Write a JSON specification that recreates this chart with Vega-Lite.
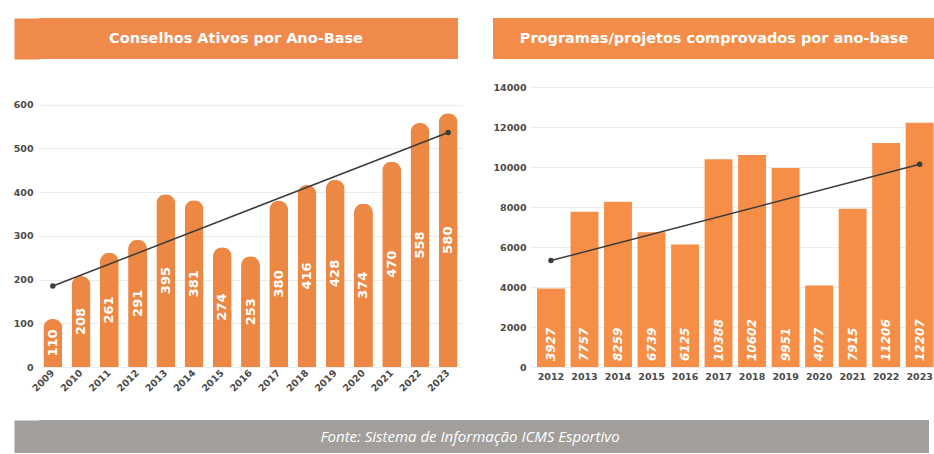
{
  "$schema": "https://vega.github.io/schema/vega-lite/v6.json",
  "padding": {"left": 13, "top": 18, "right": 0, "bottom": 0},
  "background": "white",
  "config": {
    "view": {"stroke": null},
    "axis": {
      "labelFont": "DejaVu Sans",
      "labelFontWeight": "bold",
      "labelFontSize": 9.5,
      "labelColor": "#4a4a4a",
      "labelOverlap": false,
      "domain": false,
      "ticks": false,
      "gridColor": "#ececec",
      "title": null
    }
  },
  "spacing": 27,
  "vconcat": [
    {
      "spacing": 23,
      "vconcat": [
        {
          "spacing": 35,
          "hconcat": [
            {
              "width": 419,
              "height": 41,
              "view": {"fill": "#EF8A4C", "stroke": null},
              "data": {"values": [{"titulo": "Conselhos Ativos por Ano-Base"}]},
              "mark": {"type": "text", "color": "white", "font": "DejaVu Sans", "fontWeight": "bold", "fontSize": 14.5, "align": "center", "baseline": "middle", "dx": -12.5},
              "encoding": {
                "text": {"field": "titulo"},
                "y": {"datum": 0.5, "type": "quantitative", "scale": {"domain": [0, 1]},
                  "axis": {"domain": true, "domainColor": "#EF8A4C", "domainWidth": 25, "offset": 12.5, "labels": false, "ticks": false, "grid": false, "title": null}}
              }
            },
            {
              "width": 442,
              "height": 41,
              "view": {"fill": "#F48D4A", "stroke": null},
              "data": {"values": [{"titulo": "Programas/projetos comprovados por ano-base"}]},
              "mark": {"type": "text", "color": "white", "font": "DejaVu Sans", "fontWeight": "bold", "fontSize": 14.5, "align": "center", "baseline": "middle"},
              "encoding": {"text": {"field": "titulo"}}
            }
          ]
        },
        {
          "spacing": 30,
          "hconcat": [
            {
              "width": 423,
              "height": 280,
              "data": {"values": [
                {"ano": "2009", "conselhos": 110},
                {"ano": "2010", "conselhos": 208},
                {"ano": "2011", "conselhos": 261},
                {"ano": "2012", "conselhos": 291},
                {"ano": "2013", "conselhos": 395},
                {"ano": "2014", "conselhos": 381},
                {"ano": "2015", "conselhos": 274},
                {"ano": "2016", "conselhos": 253},
                {"ano": "2017", "conselhos": 380},
                {"ano": "2018", "conselhos": 416},
                {"ano": "2019", "conselhos": 428},
                {"ano": "2020", "conselhos": 374},
                {"ano": "2021", "conselhos": 470},
                {"ano": "2022", "conselhos": 558},
                {"ano": "2023", "conselhos": 580}
              ]},
              "layer": [
                {
                  "mark": {"type": "bar", "color": "#EC8843", "cornerRadiusEnd": 9.5},
                  "encoding": {
                    "x": {"field": "ano", "type": "ordinal", "scale": {"paddingInner": 0.33, "paddingOuter": 0.155},
                      "axis": {"labelAngle": -45, "labelAlign": "right", "labelBaseline": "middle", "labelPadding": 4, "grid": false}},
                    "y": {"field": "conselhos", "type": "quantitative", "scale": {"domain": [0, 640], "nice": false},
                      "axis": {"values": [0, 100, 200, 300, 400, 500, 600], "labelOverlap": false, "labelPadding": 6, "grid": true}}
                  }
                },
                {
                  "mark": {"type": "text", "angle": 270, "color": "white", "font": "DejaVu Sans", "fontWeight": "bold", "fontSize": 13, "align": "center", "baseline": "middle"},
                  "encoding": {
                    "x": {"field": "ano", "type": "ordinal"},
                    "y": {"field": "conselhos", "type": "quantitative", "scale": {"domain": [0, 1280], "nice": false}, "axis": null},
                    "text": {"field": "conselhos"}
                  }
                },
                {
                  "data": {"values": [
                    {"ano": "2009", "tendencia": 185},
                    {"ano": "2023", "tendencia": 536}
                  ]},
                  "mark": {"type": "line", "color": "#3b3b3b", "strokeWidth": 1.5, "point": {"filled": true, "size": 30, "color": "#3b3b3b"}},
                  "encoding": {
                    "x": {"field": "ano", "type": "ordinal"},
                    "y": {"field": "tendencia", "type": "quantitative", "scale": {"domain": [0, 640], "nice": false}, "axis": null}
                  }
                }
              ],
              "resolve": {"scale": {"y": "independent"}}
            },
            {
              "width": 404,
              "height": 280,
              "data": {"values": [
                {"ano": "2012", "projetos": 3927},
                {"ano": "2013", "projetos": 7757},
                {"ano": "2014", "projetos": 8259},
                {"ano": "2015", "projetos": 6739},
                {"ano": "2016", "projetos": 6125},
                {"ano": "2017", "projetos": 10388},
                {"ano": "2018", "projetos": 10602},
                {"ano": "2019", "projetos": 9951},
                {"ano": "2020", "projetos": 4077},
                {"ano": "2021", "projetos": 7915},
                {"ano": "2022", "projetos": 11206},
                {"ano": "2023", "projetos": 12207}
              ]},
              "layer": [
                {
                  "mark": {"type": "bar", "color": "#F78E48"},
                  "encoding": {
                    "x": {"field": "ano", "type": "ordinal", "scale": {"paddingInner": 0.167, "paddingOuter": 0.11, "align": 0.95},
                      "axis": {"labelAngle": 0, "labelPadding": 4, "grid": false}},
                    "y": {"field": "projetos", "type": "quantitative", "scale": {"domain": [0, 14000], "nice": false},
                      "axis": {"values": [0, 2000, 4000, 6000, 8000, 10000, 12000, 14000], "format": "d", "labelOverlap": false, "labelPadding": 4, "grid": true}}
                  }
                },
                {
                  "mark": {"type": "text", "angle": 270, "color": "white", "font": "DejaVu Sans", "fontWeight": "bold", "fontStyle": "italic", "fontSize": 12, "align": "left", "baseline": "middle", "dx": 6},
                  "encoding": {
                    "x": {"field": "ano", "type": "ordinal"},
                    "y": {"datum": 0, "type": "quantitative", "axis": null},
                    "text": {"field": "projetos"}
                  }
                },
                {
                  "data": {"values": [
                    {"ano": "2012", "tendencia": 5320},
                    {"ano": "2023", "tendencia": 10140}
                  ]},
                  "mark": {"type": "line", "color": "#3b3b3b", "strokeWidth": 1.5, "point": {"filled": true, "size": 30, "color": "#3b3b3b"}},
                  "encoding": {
                    "x": {"field": "ano", "type": "ordinal"},
                    "y": {"field": "tendencia", "type": "quantitative", "axis": null}
                  }
                }
              ],
              "resolve": {"axis": {"y": "independent"}}
            }
          ]
        }
      ]
    },
    {
      "width": 890,
      "height": 33,
      "view": {"fill": "#A19E9B", "stroke": null},
      "data": {"values": [{"fonte": "Fonte: Sistema de Informação ICMS Esportivo"}]},
      "mark": {"type": "text", "color": "white", "font": "Open Sans", "fontStyle": "italic", "fontSize": 15, "align": "center", "baseline": "middle", "dx": -14},
      "encoding": {
        "text": {"field": "fonte"},
        "y": {"datum": 0.5, "type": "quantitative", "scale": {"domain": [0, 1]},
          "axis": {"domain": true, "domainColor": "#A19E9B", "domainWidth": 25, "offset": 12.5, "labels": false, "ticks": false, "grid": false, "title": null}}
      }
    }
  ]
}
